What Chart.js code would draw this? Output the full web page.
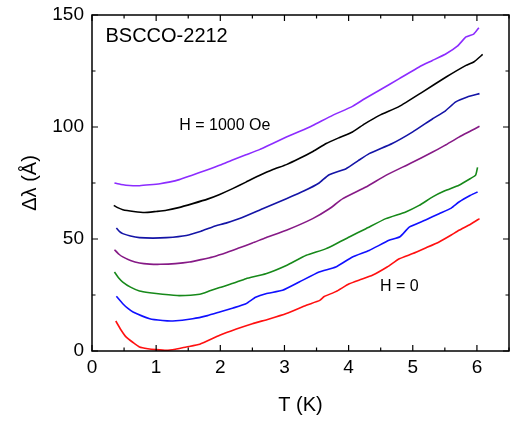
<!DOCTYPE html>
<html>
<head>
<meta charset="utf-8">
<script src="https://cdn.jsdelivr.net/npm/chart.js@4"></script>
<style>
  body { margin: 0; background: #fff; }
  canvas { display: block; }
</style>
</head>
<body>
<canvas id="c" width="510" height="422"></canvas>
<script>
var xTicks = [0, 1, 2, 3, 4, 5, 6];
var yTicks = [0, 50, 100, 150];

// H = 0 (red) up to H = 1000 Oe (violet)
var redT = [0.37,0.45,0.53,0.64,0.74,0.87,1.0,1.16,1.3,1.47,1.68,1.99,2.25,2.5,2.75,3.03,3.34,3.55,3.62,3.8,4.01,4.2,4.37,4.6,4.79,5.0,5.2,5.41,5.6,5.72,5.9,6.04];
var redL = [13.4,9.5,6.3,3.8,1.8,1.0,0.6,0.3,0.8,1.8,3,7,9.8,12.2,14.2,16.7,20.4,22.6,24.3,26.5,30,32,33.8,37.5,41.2,43.5,46,48.7,51.8,53.9,56.6,59.1];

var blueT = [0.38,0.48,0.56,0.64,0.9,1.1,1.26,1.57,1.8,1.99,2.2,2.4,2.55,2.71,2.97,3.23,3.54,3.8,4.06,4.32,4.63,4.8,4.95,5.2,5.41,5.6,5.72,5.9,6.01];
var blueL = [24.4,21.1,19,17.4,14.4,13.6,13.4,14.4,15.8,17.4,19.2,21.1,24,25.6,27.1,30.8,35.3,37.5,42,44.9,49.4,51,55.4,58.5,61.3,63.8,66.5,69.5,71];

var greenT = [0.35,0.42,0.48,0.6,0.74,0.9,1.1,1.36,1.68,1.85,1.99,2.2,2.4,2.71,3.03,3.34,3.65,4.01,4.27,4.58,4.89,5.1,5.31,5.5,5.72,5.9,5.98,6.01];
var greenL = [35.3,32.5,30.8,28.5,26.8,26,25.3,24.7,25.3,27,28.3,30.2,32.3,34.5,38.2,42.7,45.7,50.9,54.6,59.1,62.1,65,68.8,71.5,74,77,78.5,82];

var purpleT = [0.35,0.42,0.48,0.6,0.74,0.9,1.06,1.3,1.52,1.7,1.88,2.1,2.3,2.5,2.71,3.03,3.44,3.7,3.91,4.27,4.58,4.95,5.31,5.5,5.72,5.9,6.04];
var purpleL = [45.2,43.2,42,40.4,39.3,38.8,38.7,39,39.7,40.8,42,44,46.1,48.2,50.6,53.9,59.1,63.5,68,73.2,78.4,83.6,88.8,91.8,95.5,98.2,100.3];

var navyT = [0.38,0.43,0.48,0.6,0.74,0.95,1.16,1.47,1.7,1.88,2.1,2.3,2.66,3.03,3.3,3.54,3.69,3.96,4.15,4.32,4.68,5.0,5.31,5.5,5.67,5.85,6.04];
var navyL = [54.9,53.3,52.4,51.3,50.6,50.4,50.6,51.6,53.5,55.4,57.2,59.1,63.5,68,71.4,75,78.6,81.4,85,88.1,92.6,97.8,103.7,107,111.2,113.4,114.9];

var blackT = [0.34,0.4,0.48,0.65,0.82,1.0,1.16,1.35,1.57,1.8,1.99,2.2,2.4,2.6,2.82,3.03,3.23,3.45,3.65,3.85,4.06,4.25,4.48,4.79,5.15,5.52,5.83,5.95,6.09];
var blackL = [65,64,63.1,62.3,61.8,62.3,62.8,64,65.8,67.8,69.9,72.6,75.4,78.2,81,83.2,85.9,89.2,92.6,95.2,97.8,101.4,105.2,109.2,115.6,122.3,127.5,129,132.4];

var violetT = [0.35,0.45,0.53,0.64,0.74,0.9,1.06,1.2,1.36,1.55,1.78,2.0,2.2,2.4,2.61,2.8,3.03,3.25,3.44,3.75,4.06,4.25,4.48,4.79,5.1,5.3,5.52,5.7,5.83,5.95,6.03];
var violetL = [75,74.3,74,73.8,73.8,74.2,74.7,75.4,76.5,78.4,80.7,83,85.4,87.6,89.9,92.4,95.5,98.2,100.7,105.2,109.2,112.6,116.4,121.6,126.8,129.6,132.7,136.2,140.2,141.5,144.3];

function pts(t, l) {
  return t.map(function (v, i) { return { x: v, y: l[i] }; });
}

function ds(t, l, color) {
  return {
    data: pts(t, l),
    borderColor: color,
    borderWidth: 1.6,
    pointRadius: 0,
    tension: 0.15,
    fill: false
  };
}

var font = 'Liberation Sans, Arial, Helvetica, sans-serif';

var framePlugin = {
  id: 'frame',
  afterDraw: function (chart) {
    var ctx = chart.ctx;
    var a = chart.chartArea;
    var xs = chart.scales.x, ys = chart.scales.y;
    ctx.save();
    ctx.strokeStyle = '#000';
    ctx.lineWidth = 1.5;
    ctx.strokeRect(a.left, a.top, a.right - a.left, a.bottom - a.top);
    ctx.lineWidth = 1.2;
    ctx.beginPath();
    for (var v = 0; v <= 6.5; v += 0.5) {
      var px = xs.getPixelForValue(v);
      var len = (v % 1 === 0) ? 6 : 3.5;
      ctx.moveTo(px, a.bottom); ctx.lineTo(px, a.bottom - len);
      ctx.moveTo(px, a.top); ctx.lineTo(px, a.top + len);
    }
    for (var w = 0; w <= 150; w += 25) {
      var py = ys.getPixelForValue(w);
      var len2 = (w % 50 === 0) ? 6 : 3.5;
      ctx.moveTo(a.left, py); ctx.lineTo(a.left + len2, py);
      ctx.moveTo(a.right, py); ctx.lineTo(a.right - len2, py);
    }
    ctx.stroke();

    ctx.fillStyle = '#000';
    ctx.textBaseline = 'middle';
    ctx.textAlign = 'left';
    ctx.font = '20px ' + font;
    ctx.fillText('BSCCO-2212', xs.getPixelForValue(0.21), ys.getPixelForValue(140.3));
    ctx.font = '16px ' + font;
    ctx.fillText('H = 1000 Oe', xs.getPixelForValue(1.36), ys.getPixelForValue(100.5));
    ctx.fillText('H = 0', xs.getPixelForValue(4.49), ys.getPixelForValue(28.8));
    ctx.restore();
  }
};

new Chart(document.getElementById('c'), {
  type: 'line',
  data: {
    datasets: [
      ds(redT, redL, '#ff1010'),
      ds(blueT, blueL, '#1010ff'),
      ds(greenT, greenL, '#17891a'),
      ds(purpleT, purpleL, '#861a86'),
      ds(navyT, navyL, '#1414a6'),
      ds(blackT, blackL, '#000000'),
      ds(violetT, violetL, '#8c2cff')
    ]
  },
  options: {
    responsive: false,
    animation: false,
    events: [],
    layout: { padding: { top: 15, right: 1, left: 0, bottom: 0 } },
    plugins: { legend: { display: false }, tooltip: { enabled: false } },
    scales: {
      x: {
        type: 'linear',
        min: 0,
        max: 6.5,
        grid: { display: false, drawTicks: false },
        border: { display: false },
        afterBuildTicks: function (s) { s.ticks = xTicks.map(function (v) { return { value: v }; }); },
        afterFit: function (s) { s.height = 71; s.paddingLeft = 0; s.paddingRight = 0; },
        ticks: { color: '#000', font: { size: 19, family: font }, padding: 5, maxRotation: 0 },
        title: { display: true, text: 'T (K)', color: '#000', font: { size: 20, family: font }, padding: { top: 0, bottom: 5 } }
      },
      y: {
        type: 'linear',
        min: 0,
        max: 150,
        grid: { display: false, drawTicks: false },
        border: { display: false },
        afterBuildTicks: function (s) { s.ticks = yTicks.map(function (v) { return { value: v }; }); },
        afterFit: function (s) { s.width = 92; s.paddingTop = 0; s.paddingBottom = 0; },
        ticks: { color: '#000', font: { size: 19, family: font }, padding: 8 },
        title: { display: true, text: 'Δλ (Å)', color: '#000', font: { size: 20, family: font }, padding: { top: 18, bottom: 0 } }
      }
    }
  },
  plugins: [framePlugin]
});
</script>
</body>
</html>
